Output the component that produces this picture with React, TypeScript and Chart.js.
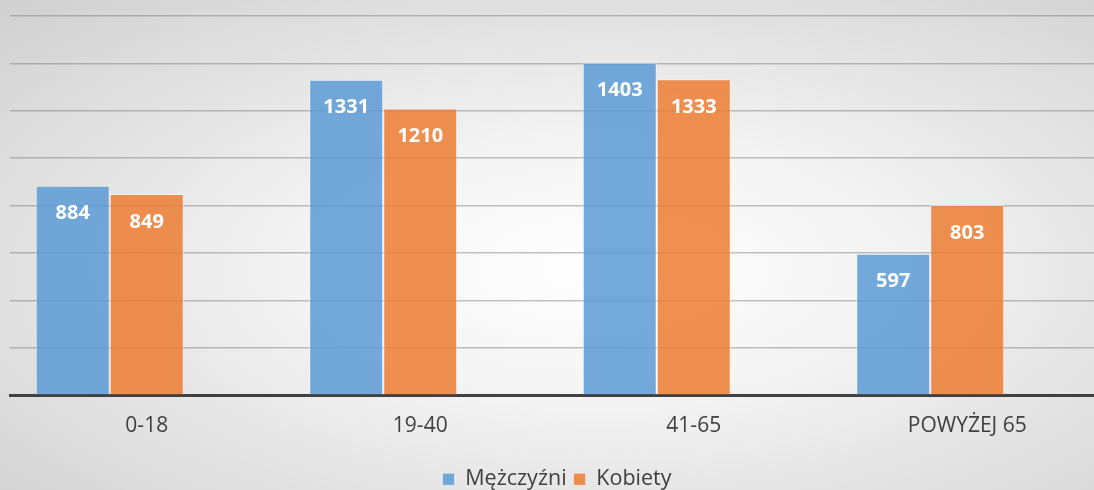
import React, { useEffect, useRef } from "react";
import { Chart, registerables } from "chart.js";

Chart.register(...registerables);

const categories = ["0-18", "19-40", "41-65", "POWYŻEJ 65"];
const men = [884, 1331, 1403, 597];
const women = [849, 1210, 1333, 803];
const empty = [null, null, null, null];
const seriesNames = ["Mężczyźni", "Kobiety"];
const yMax = 1600;
const yStep = 200;

const FONT = "'Open Sans', 'DejaVu Sans', sans-serif";

const valueLabels = {
  id: "valueLabels",
  afterDatasetsDraw(chart: any) {
    const ctx = chart.ctx;
    ctx.save();
    ctx.fillStyle = "#ffffff";
    ctx.font = `bold 20px ${FONT}`;
    ctx.textAlign = "center";
    ctx.textBaseline = "middle";
    [0, 1].forEach((di) => {
      const meta = chart.getDatasetMeta(di);
      meta.data.forEach((bar: any, i: number) => {
        const v = chart.data.datasets[di].data[i];
        if (v == null) return;
        ctx.fillText(String(v), bar.x, bar.y + 28);
      });
    });
    ctx.restore();
  },
};

export default function App() {
  const ref = useRef<HTMLCanvasElement>(null);
  useEffect(() => {
    const chart = new Chart(ref.current!, {
      type: "bar",
      data: {
        labels: categories,
        datasets: [
          {
            label: seriesNames[0],
            data: men,
            backgroundColor: "rgba(91,155,213,0.85)",
            borderColor: "rgba(255,255,255,0.45)",
            borderWidth: 1,
          },
          {
            label: seriesNames[1],
            data: women,
            backgroundColor: "rgba(237,125,49,0.85)",
            borderColor: "rgba(255,255,255,0.45)",
            borderWidth: 1,
          },
          {
            label: "",
            data: empty as any,
            backgroundColor: "rgba(0,0,0,0)",
          },
        ],
      },
      options: {
        responsive: false,
        animation: false,
        layout: { padding: { left: 10, right: 6, top: 16, bottom: 0 } },
        datasets: {
          bar: { categoryPercentage: 0.812, barPercentage: 1 },
        },
        scales: {
          x: {
            grid: { display: false },
            border: { display: true, color: "#404040", width: 3 },
            ticks: {
              color: "#404040",
              font: { family: FONT, size: 21 },
              padding: 10,
            },
            afterFit: (scale: any) => {
              scale.height += 13;
            },
          },
          y: {
            min: 0,
            max: yMax,
            ticks: { display: false, stepSize: yStep },
            grid: {
              color: "rgba(110,110,110,0.42)",
              lineWidth: 1.5,
              drawTicks: false,
            },
            border: { display: false },
          },
        },
        plugins: {
          tooltip: { enabled: false },
          legend: {
            position: "bottom",
            labels: {
              color: "#404040",
              font: { family: FONT, size: 21.5 },
              boxWidth: 12,
              boxHeight: 12,
              padding: 7,
              filter: (item: any) => item.datasetIndex < 2,
            },
          },
        },
      },
      plugins: [valueLabels],
    });
    return () => chart.destroy();
  }, []);
  return (
    <div
      style={{
        position: "fixed",
        left: 0,
        top: 0,
        width: 1094,
        height: 490,
        overflow: "hidden",
        background:
          "radial-gradient(ellipse at 55% 55%, #ffffff 0%, #f3f3f3 35%, #d0d0d0 100%)",
      }}
    >
      <canvas ref={ref} width={1110} height={500} style={{ display: "block" }} />
    </div>
  );
}
